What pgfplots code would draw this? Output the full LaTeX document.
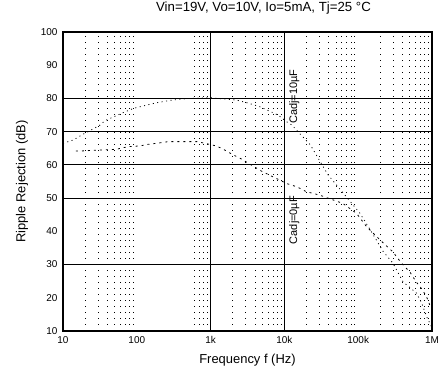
\documentclass[border=0pt]{standalone}
\usepackage{fontspec}
\setmainfont{Liberation Sans}
\usepackage{pgfplots}
\pgfplotsset{compat=1.18}
\begin{document}
\begin{tikzpicture}[x=1bp,y=1bp]
\useasboundingbox (-63bp,-46bp) rectangle (375bp,331bp);
\begin{axis}[
  at={(0,0)}, anchor=south west,
  scale only axis, width=369bp, height=299bp,
  xmode=log, xmin=10, xmax=1000000, ymin=10, ymax=100,
  log basis x=10,
  xtick={10,100,1000,10000,100000,1000000},
  xticklabels={10,100,1k,10k,100k,1M},
  ytick={10,20,30,40,50,60,70,80,90,100},
  minor xtick={20,30,40,50,60,70,80,90,600,700,800,900,2000,3000,4000,5000,6000,7000,8000,9000,20000,30000,40000,50000,60000,70000,80000,90000,200000,300000,400000,500000,600000,700000,800000,900000},
  minor grid style={black, dash pattern=on 1bp off 5bp, line width=0.9bp},
  xminorgrids=true,
  extra x ticks={1000,10000}, extra x tick labels={},
  extra y ticks={30,50,60,70,80}, extra y tick labels={},
  extra tick style={grid=major, major grid style={black, solid, line width=1.1bp}},
  major tick length=0pt, minor tick length=0pt,
  axis line style={black, line width=1.5bp},
  tick label style={font=\fontsize{10}{12}\selectfont},
  xticklabel style={yshift=-2bp},
  yticklabel style={xshift=-2bp},
  /pgf/number format/assume math mode=true,
  title={Vin=19V, Vo=10V, Io=5mA, Tj=25 °C},
  title style={at={(rel axis cs:0.5,1)}, anchor=center, yshift=18bp, xshift=16bp, font=\fontsize{13.3}{15}\selectfont},
  xlabel={Frequency f (Hz)},
  xlabel style={at={(rel axis cs:0.5,0)}, anchor=center, yshift=-29bp, font=\fontsize{13}{15}\selectfont},
  ylabel={Ripple Rejection (dB)},
  ylabel style={at={(rel axis cs:0,0.5)}, anchor=center, yshift=41bp, font=\fontsize{13}{15}\selectfont},
]
\addplot[black, line width=0.8bp, dash pattern=on 1bp off 3.5bp] coordinates {
(10,66.5) (13.8,67.5) (17.9,69) (23.2,70.3) (31.8,72) (37,73.3) (59,75.3) (90,77)
(136,78) (186,78.7) (296,79.5) (500,80) (1000,80.2) (2260,79.5) (3240,78.6)
(4660,77.5) (8200,75) (10700,73) (12600,72) (22500,66) (39000,57) (78000,49)
(105000,45.5) (150000,40) (217000,34) (296000,30.4) (405000,24.8) (617000,21.4)
(725000,18.4) (850000,14.2) (1000000,11)
};
\addplot[black, line width=0.8bp, dash pattern=on 2bp off 4bp] coordinates {
(15,64.2) (18,64.2) (33.4,64.5) (53,64.7) (76,65.5) (110,65.7) (143,66.2) (186,66.5)
(268,67) (650,67) (840,66.5) (1140,65.8) (1410,65) (2030,63) (2510,62) (5000,58)
(10700,54.4) (14800,53.4) (20000,51.9) (24600,51.4) (30000,50.9) (62000,48.4)
(95000,45.4) (130000,41.4) (200000,37.3) (296000,33.8) (375000,30.8) (430000,29.3)
(500000,27.8) (610000,24.8) (750000,22.3) (885000,19.3) (950000,17.3)
};
\node[rotate=90, font=\fontsize{11}{13}\selectfont, inner sep=1bp] at (axis cs:13600,80.5) {Cadj=10µF};
\node[rotate=90, font=\fontsize{11}{13}\selectfont, inner sep=1bp] at (axis cs:13600,43.4) {Cadj=0µF};
\end{axis}
\end{tikzpicture}
\end{document}
